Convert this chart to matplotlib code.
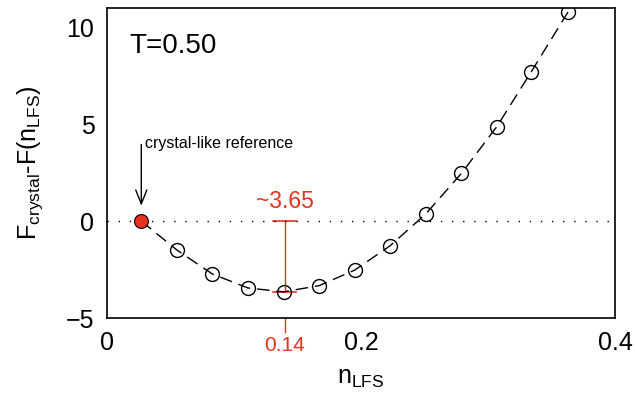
import matplotlib
matplotlib.use("Agg")
import matplotlib.pyplot as plt
import numpy as np

plt.rcParams['font.family'] = ['Liberation Sans', 'DejaVu Sans']
plt.rcParams['mathtext.fontset'] = 'custom'
plt.rcParams['mathtext.rm'] = 'Liberation Sans'

# данные
n_lfs = [0.027, 0.055, 0.083, 0.111, 0.139, 0.167, 0.195, 0.223, 0.251,
         0.279, 0.307, 0.334, 0.363]
dF = [0.0, -1.49, -2.73, -3.45, -3.65, -3.33, -2.53, -1.27, 0.37,
      2.46, 4.88, 7.7, 10.79]
n_min = 0.14
dF_min = -3.65
temp_label = "T=0.50"

red = '#e8321f'

fig = plt.figure(figsize=(6.35, 3.98), dpi=100)
ax = fig.add_axes([0.1685, 0.201, 0.8, 0.779])

# пунктир по нулю
ax.axhline(0, color='black', lw=1, dashes=(1, 7))

# штриховая кривая + пустые кружки
ax.plot(n_lfs, dF, color='black', lw=1, dashes=(9, 5), zorder=2)
ax.plot(n_lfs[1:], dF[1:], 'o', mfc='none', mec='black', ms=10, mew=1, zorder=3)
ax.plot(n_lfs[0], dF[0], 'o', mfc=red, mec='black', ms=10, mew=0.8, zorder=4)

# глубина минимума
ax.plot([n_min, n_min], [0, dF_min], color=red, lw=1, zorder=1)
ax.plot([n_min - 0.009, n_min + 0.009], [0, 0], color=red, lw=1.2, zorder=1)
ax.plot([n_min - 0.009, n_min + 0.009], [dF_min, dF_min], color=red, lw=1.2, zorder=1)
ax.text(n_min, 0.4, "~%.2f" % abs(dF_min), color=red, fontsize=16.5,
        ha='center', va='bottom')
ax.plot([n_min, n_min], [-5, -5.7], color=red, lw=1, clip_on=False)
ax.text(n_min, -5.95, "%.2f" % n_min, color=red, fontsize=15, ha='center', va='top')

# стрелка на опорную точку
ax.annotate("", xy=(n_lfs[0], 0.65), xytext=(n_lfs[0], 4.1),
            arrowprops=dict(arrowstyle='->,head_length=1.0,head_width=0.4',
                            color='black', lw=1))
ax.text(n_lfs[0] + 0.003, 4.0, "crystal-like reference", fontsize=11.5,
        ha='left', va='center')

ax.text(0.018, 9.05, temp_label, fontsize=20, ha='left', va='center')

ax.set_xlim(0, 0.4)
ax.set_ylim(-5, 11)
ax.set_xticks([0, 0.2, 0.4])
ax.set_xticklabels(["0", "0.2", "0.4"])
ax.set_yticks([-5, 0, 5, 10])
ax.set_yticklabels(["\u22125", "0", "5", "10"])
ax.tick_params(length=0, labelsize=18)
ax.tick_params(axis='x', pad=9)
ax.tick_params(axis='y', pad=9)
for s in ax.spines.values():
    s.set_linewidth(1.2)

ax.set_xlabel("n$_\\mathregular{LFS}$", fontsize=18, labelpad=8)
ax.set_ylabel("F$_\\mathregular{crystal}$-F(n$_\\mathregular{LFS}$)", fontsize=18, labelpad=15)

fig.savefig("out.png", dpi=100)
